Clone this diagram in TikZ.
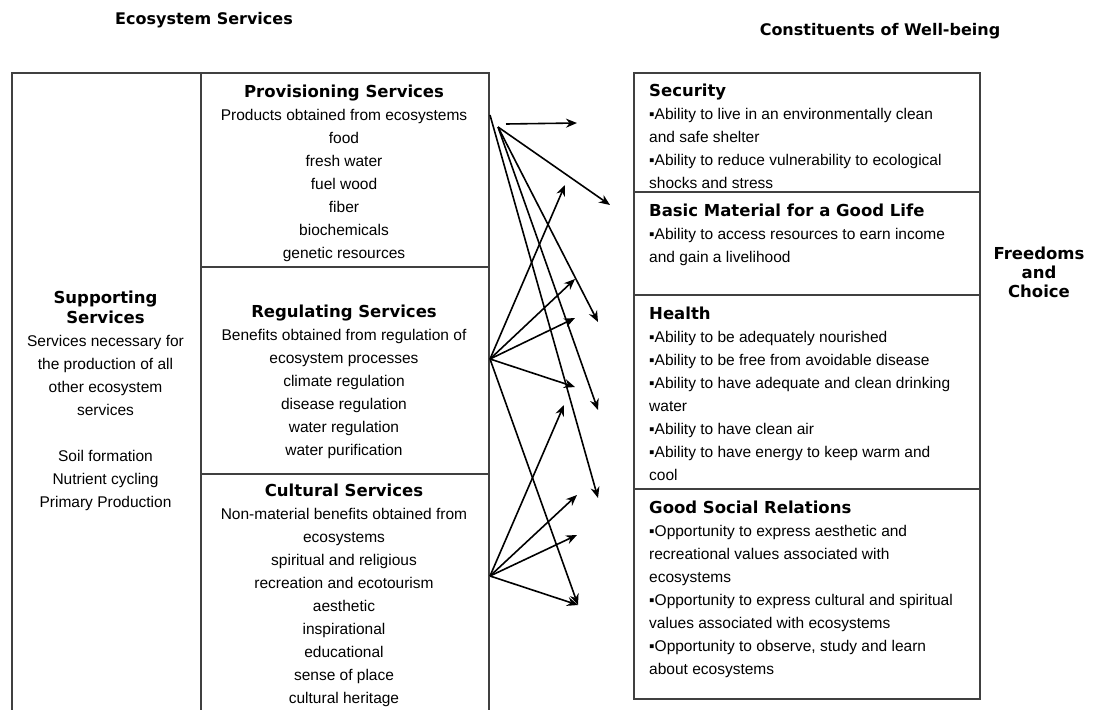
\documentclass[tikz,border=0pt]{standalone}
\usepackage{fontspec}
\setmainfont{Liberation Sans}
\newfontfamily\headfont{DejaVu Sans}
\usetikzlibrary{positioning,arrows,arrows.meta}

\newcommand{\hd}{\headfont\bfseries\fontsize{16.5}{23}\selectfont}

\tikzset{
  cell/.style={
    % The shape:
    rectangle, anchor=north west,
    % The border:
    draw=black!75, line width=1.5pt,
    inner sep=0pt
  },
  body/.style={
    % Font
    font=\fontsize{15.5}{23}\selectfont,
    inner sep=0pt
  },
  head/.style={font=\headfont\bfseries\fontsize{16}{19}\selectfont,inner sep=0pt}
}

\begin{document}
\begin{tikzpicture}[x=1pt,y=-1pt,>={Stealth[length=11pt,width=9pt]},
                    point/.style={coordinate},
                    tip/.style={->,line width=1.6pt}]
  \useasboundingbox (0,0) rectangle (1107,709);

  \node (es) [head] at (204,20) {Ecosystem Services};
  \node (cw) [head] at (880,31) {Constituents of Well-being};

  % left block
  \node (supp) [cell,minimum width=189pt,minimum height=660pt] at (11,72)  {};
  \node (prov) [cell,minimum width=288pt,minimum height=194pt] at (200,72) {};
  \node (reg)  [cell,minimum width=288pt,minimum height=207pt] at (200,266) {};
  \node (cult) [cell,minimum width=288pt,minimum height=260pt] at (200,473) {};

  \node (supptxt) [body,align=center,anchor=north] at (105.5,290.5)
    {{\hd Supporting}\\[-3pt]{\hd Services}\\Services necessary for\\the production of all\\
     other ecosystem\\services\\[23pt]Soil formation\\Nutrient cycling\\Primary Production};
  \node (provtxt) [body,align=center,anchor=north] at (344,84.5)
    {{\hd Provisioning Services}\\Products obtained from ecosystems\\food\\fresh water\\
     fuel wood\\fiber\\biochemicals\\genetic resources};
  \node (regtxt) [body,align=center,anchor=north] at (344,304.5)
    {{\hd Regulating Services}\\Benefits obtained from regulation of\\ecosystem processes\\
     climate regulation\\disease regulation\\water regulation\\water purification};
  \node (culttxt) [body,align=center,anchor=north] at (344,483.5)
    {{\hd Cultural Services}\\Non-material benefits obtained from\\ecosystems\\
     spiritual and religious\\recreation and ecotourism\\aesthetic\\inspirational\\
     educational\\sense of place\\cultural heritage};

  % right block
  \node (sec)    [cell,minimum width=346pt,minimum height=119pt] at (633,72)  {};
  \node (basic)  [cell,minimum width=346pt,minimum height=103pt] at (633,191) {};
  \node (health) [cell,minimum width=346pt,minimum height=194pt] at (633,294) {};
  \node (social) [cell,minimum width=346pt,minimum height=210pt] at (633,488) {};

  \node (sectxt) [body,align=left,anchor=north west] at (649,83.5)
    {{\hd Security}\\▪Ability to live in an environmentally clean\\and safe shelter\\
     ▪Ability to reduce vulnerability to ecological\\shocks and stress};
  \node (basictxt) [body,align=left,anchor=north west] at (649,203.5)
    {{\hd Basic Material for a Good Life}\\▪Ability to access resources to earn income\\
     and gain a livelihood};
  \node (healthtxt) [body,align=left,anchor=north west] at (649,306.5)
    {{\hd Health}\\▪Ability to be adequately nourished\\▪Ability to be free from avoidable disease\\
     ▪Ability to have adequate and clean drinking\\water\\▪Ability to have clean air\\
     ▪Ability to have energy to keep warm and\\cool};
  \node (socialtxt) [body,align=left,anchor=north west] at (649,500.5)
    {{\hd Good Social Relations}\\▪Opportunity to express aesthetic and\\
     recreational values associated with\\ecosystems\\
     ▪Opportunity to express cultural and spiritual\\values associated with ecosystems\\
     ▪Opportunity to observe, study and learn\\about ecosystems};
  \node (freetxt) [align=center,inner sep=0pt,anchor=north,
                   font=\headfont\bfseries\fontsize{16.5}{19}\selectfont] at (1039,246.5)
    {Freedoms\\and\\Choice};

  % arrow ends
  \node (pv1) [point] at (490,115) {};
  \node (pv2) [point] at (498,127) {};
  \node (pv3) [point] at (506,124) {};
  \node (rg)  [point] at (490,359) {};
  \node (cu)  [point] at (490,576) {};
  \node (ta)  [point] at (577,123) {};
  \node (tb)  [point] at (610,205) {};
  \node (tc)  [point] at (598,322) {};
  \node (td)  [point] at (598,410) {};
  \node (te)  [point] at (598,498) {};
  \node (tf)  [point] at (565,185) {};
  \node (tg)  [point] at (575,279) {};
  \node (th)  [point] at (575,318) {};
  \node (ti)  [point] at (575,387) {};
  \node (tj)  [point] at (578,605) {};
  \node (tk)  [point] at (564,405) {};
  \node (tl)  [point] at (577,495) {};
  \node (tm)  [point] at (577,535) {};

  \draw[tip] (pv3) -- (ta);
  \draw[tip] (pv2) -- (tb);
  \draw[tip] (pv2) -- (tc);
  \draw[tip] (pv2) -- (td);
  \draw[tip] (pv1) -- (te);
  \draw[tip] (rg) -- (tf);
  \draw[tip] (rg) -- (tg);
  \draw[tip] (rg) -- (th);
  \draw[tip] (rg) -- (ti);
  \draw[tip] (rg) -- (tj);
  \draw[tip] (cu) -- (tk);
  \draw[tip] (cu) -- (tl);
  \draw[tip] (cu) -- (tm);
  \draw[tip] (cu) -- (tj);
\end{tikzpicture}
\end{document}
